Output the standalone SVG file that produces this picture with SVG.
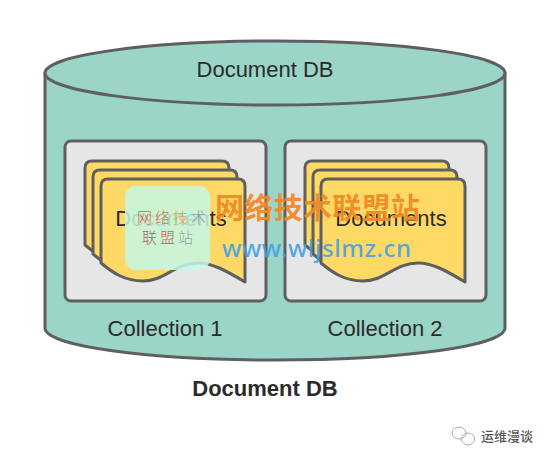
<svg xmlns="http://www.w3.org/2000/svg" width="550" height="462" viewBox="0 0 550 462">
<style>
.s{stroke:#5f5f5f;stroke-width:3;stroke-linejoin:round}
.lbl{font-family:"Liberation Sans",Arial,sans-serif;font-size:22px;fill:#2b2b2b;text-anchor:middle}
.doc{fill:#ffd966}
.col{fill:#e6e6e6}
.cjk{font-family:"Noto Sans CJK SC",sans-serif}
</style>
<defs>
<path id="d" d="M101 263V186Q101 179 108 179H238Q245 179 245 186V282C225 270 212 263 198 263C175 263 165 281 143 281C125 281 113 273 101 263Z"/>
</defs>
<rect width="550" height="462" fill="#fff"/>
<g id="cylinder">
<path class="s" fill="#9ad5c7" d="M45 73V328C45 346 148 360 275 360S505 346 505 328V73Z"/>
<ellipse class="s" fill="#9ad5c7" cx="275" cy="73" rx="230" ry="32"/>
<text class="lbl" x="265" y="77">Document DB</text>
</g>
<g id="collection1">
<rect class="s col" x="65" y="141" width="201" height="160" rx="6"/>
<use href="#d" class="s doc" x="-16" y="-18"/>
<use href="#d" class="s doc" x="-8" y="-9"/>
<use href="#d" class="s doc"/>
<text class="lbl" x="171" y="226">Documents</text>
<text class="lbl" x="165" y="336">Collection 1</text>
</g>
<g id="collection2">
<rect class="s col" x="285" y="141" width="201" height="160" rx="6"/>
<use href="#d" class="s doc" x="204" y="-18"/>
<use href="#d" class="s doc" x="212" y="-9"/>
<use href="#d" class="s doc" x="220"/>
<text class="lbl" x="391" y="226">Documents</text>
<text class="lbl" x="385" y="336">Collection 2</text>
</g>
<text id="caption" x="265" y="396" font-family="Liberation Sans,Arial,sans-serif" font-size="22" font-weight="bold" fill="#2b2b2b" text-anchor="middle">Document DB</text>
<g id="watermark">
<rect x="125" y="186" width="85" height="84" rx="11" fill="#c5f7e6" opacity=".85"/>
<text class="cjk" x="137" y="223" font-size="15" font-weight="300" fill="#e2604a" letter-spacing="3">网<tspan fill="#d8744a">络</tspan><tspan fill="#e8a23a">技</tspan><tspan fill="#8a9aa0">术</tspan></text>
<text class="cjk" x="142" y="243" font-size="15" font-weight="300" fill="#a8665a" letter-spacing="3">联<tspan fill="#c0605a">盟</tspan><tspan fill="#8fa8a8">站</tspan></text>
<text class="cjk" x="215" y="219" font-size="29" font-weight="700" fill="#f08a24" fill-opacity=".95" textLength="205">网络技术联盟站</text>
<text x="222" y="257" font-family="Noto Sans,sans-serif" font-size="24" font-weight="500" fill="#3f9fe8" fill-opacity=".9" textLength="189">www.wljslmz.cn</text>
</g>
<g id="wechat" fill="none" stroke="#aaa" stroke-width="1">
<ellipse cx="459" cy="433" rx="7" ry="6"/>
<ellipse cx="468" cy="439" rx="6.500" ry="6"/>
<text class="cjk" x="481" y="441" font-size="13" font-weight="500" fill="#555" stroke="none" textLength="52">运维漫谈</text>
</g>
</svg>
